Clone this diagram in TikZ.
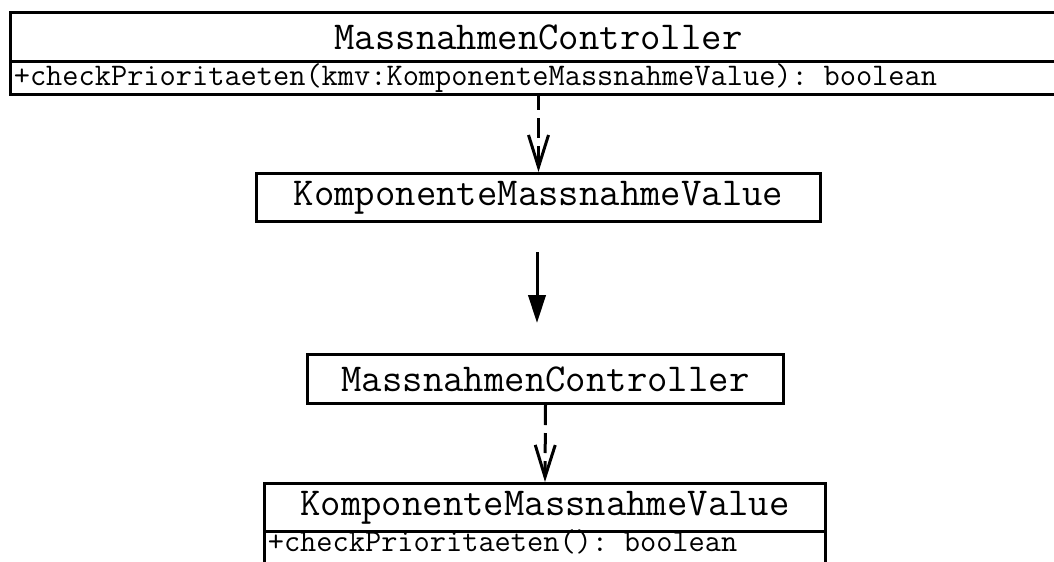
\documentclass[tikz,border=0pt]{standalone}
\usepackage{fontspec}
\usetikzlibrary{arrows.meta}

\tikzset{
  umlline/.style={line width=2.25pt},
  classname/.style={umlline, draw, rectangle, inner sep=0pt, anchor=north west,
    font=\ttfamily\fontsize{29.7}{31}\selectfont},
  methodrow/.style={umlline, draw, rectangle, inner xsep=2.5pt, inner ysep=0pt,
    anchor=north west, align=left,
    font=\ttfamily\fontsize{23.6}{25}\selectfont},
  dependency/.style={umlline, dash pattern=on 15pt off 6pt,
    -{Straight Barb[length=24pt,width=15pt,line width=2.25pt]}},
  association/.style={umlline, -{Triangle[length=21pt,width=13pt]}}
}

\begin{document}
\begin{tikzpicture}[x=0.75pt, y=-0.75pt]
  \useasboundingbox (0,0) rectangle (1054,561);

  % controller class with its operation
  \node[classname, minimum width=792pt, minimum height=36.75pt] (ctrl) at (9,11)
    {MassnahmenController};
  \node[methodrow, text width=787pt, minimum height=24.75pt] (ctrlop) at (9,60)
    {+checkPrioritaeten(kmv:KomponenteMassnahmeValue): boolean};

  % value class
  \node[classname, minimum width=423pt, minimum height=36pt] (kmv) at (255,172)
    {KomponenteMassnahmeValue};

  % refactored pair
  \node[classname, minimum width=357pt, minimum height=36.75pt] (ctrlb) at (306,353)
    {MassnahmenController};
  \node[classname, minimum width=420.75pt, minimum height=36pt] (kmvb) at (263,482)
    {KomponenteMassnahmeValue};
  \node[methodrow, text width=415.75pt, text height=15pt, text depth=10.5pt]
    (kmvbop) at (263,530) {+checkPrioritaeten(): boolean};

  % transformation arrow
  \coordinate (tfrom) at (537,252);
  \coordinate (tto) at (537,323);

  \draw[dependency, dash phase=4.5pt] (ctrlop.south) -- (kmv.north);
  \draw[association] (tfrom) -- (tto);
  \draw[dependency] (ctrlb.south) -- (kmvb.north);
\end{tikzpicture}
\end{document}
